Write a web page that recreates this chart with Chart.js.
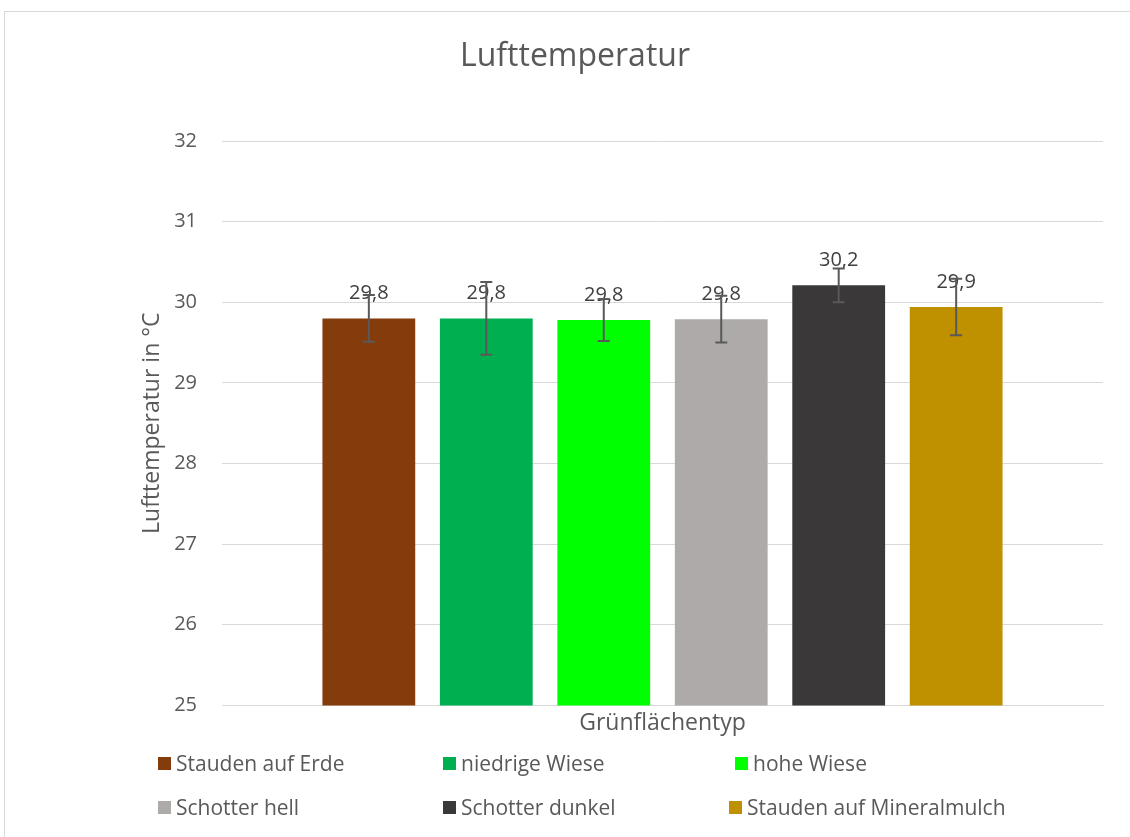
<!DOCTYPE html>
<html>
<head>
<meta charset="utf-8">
<script src="https://cdn.jsdelivr.net/npm/chart.js@4.4.0/dist/chart.umd.min.js"></script>
<style>
  body { margin: 0; background: #fff; font-family: 'Open Sans', sans-serif; }
  #wrap { position: relative; width: 1130px; height: 837px; overflow: hidden; }
  #frame { position: absolute; left: 4px; top: 11px; width: 1200px; height: 900px; border: 1px solid #d9d9d9; }
  canvas { position: absolute; left: 0; top: 0; }
  #title { position: absolute; left: 0; top: 35px; width: 1150px; text-align: center; font-size: 32px; line-height: 38px; color: #595959; }
  .legend-item { position: absolute; display: flex; align-items: center; font-size: 21px; line-height: 28px; color: #595959; white-space: nowrap; }
  .legend-item span.box { display: inline-block; width: 13px; height: 13px; margin-right: 5px; }
</style>
</head>
<body>
<div id="wrap">
  <div id="frame"></div>
  <canvas id="chart" width="1130" height="837"></canvas>
  <div id="title">Lufttemperatur</div>
  <div id="legend"></div>
</div>
<script>
// Lufttemperatur je Grünflächentyp
const seriesNames = ['Stauden auf Erde', 'niedrige Wiese', 'hohe Wiese', 'Schotter hell', 'Schotter dunkel', 'Stauden auf Mineralmulch'];
const meanValues = [29.80, 29.80, 29.78, 29.79, 30.21, 29.94];
const errorValues = [0.29, 0.45, 0.26, 0.29, 0.21, 0.35];
const barColors = ['#843C0C', '#00B050', '#00FF00', '#AEAAAA', '#3A3838', '#BF9000'];
const yTicks = [25, 26, 27, 28, 29, 30, 31, 32];

// legend positions (3 columns, 2 rows)
const legendPos = [
  [158, 749], [443, 749], [735, 749],
  [158, 793], [443, 793], [729, 793]
];

const textColor = '#595959';

// data labels + error bars
const barExtras = {
  id: 'barExtras',
  afterDatasetsDraw(chart) {
    const ctx = chart.ctx;
    const yScale = chart.scales.y;
    ctx.save();
    ctx.font = '20px "Open Sans"';
    ctx.fillStyle = '#404040';
    ctx.textAlign = 'center';
    ctx.textBaseline = 'middle';
    chart.data.datasets.forEach((ds, i) => {
      const bar = chart.getDatasetMeta(i).data[0];
      ctx.fillText(meanValues[i].toFixed(1).replace('.', ','), bar.x, bar.y - 25);
    });
    ctx.strokeStyle = '#595959';
    ctx.lineWidth = 2;
    chart.data.datasets.forEach((ds, i) => {
      const bar = chart.getDatasetMeta(i).data[0];
      const top = yScale.getPixelForValue(meanValues[i] + errorValues[i]);
      const bottom = yScale.getPixelForValue(meanValues[i] - errorValues[i]);
      ctx.beginPath();
      ctx.moveTo(bar.x, top); ctx.lineTo(bar.x, bottom);
      ctx.moveTo(bar.x - 6, top); ctx.lineTo(bar.x + 6, top);
      ctx.moveTo(bar.x - 6, bottom); ctx.lineTo(bar.x + 6, bottom);
      ctx.stroke();
    });
    ctx.restore();
  }
};

const datasets = seriesNames.map((name, i) => ({
  label: name,
  data: [meanValues[i]],
  backgroundColor: barColors[i],
  borderWidth: 0,
  barPercentage: 0.79,
  categoryPercentage: 0.8
}));

new Chart(document.getElementById('chart'), {
  type: 'bar',
  data: { labels: [''], datasets },
  options: {
    responsive: false,
    animation: false,
    devicePixelRatio: 1,
    layout: { padding: { left: 135, right: 27, top: 141, bottom: 100 } },
    plugins: {
      legend: { display: false },
      tooltip: { enabled: false },
      title: { display: false }
    },
    scales: {
      x: {
        grid: { display: false, drawTicks: false },
        border: { display: true, color: '#d9d9d9' },
        ticks: { display: false },
        title: {
          display: true,
          text: 'Grünflächentyp',
          color: textColor,
          font: { family: 'Open Sans', size: 23 },
          padding: { top: 4, bottom: 0 }
        }
      },
      y: {
        min: 25,
        max: 32,
        afterBuildTicks(scale) { scale.ticks = yTicks.map(v => ({ value: v })); },
        afterFit(scale) { scale.width = 87; },
        grid: { color: '#d9d9d9', drawTicks: false },
        border: { display: false },
        ticks: {
          color: textColor,
          padding: 25,
          font: { family: 'Open Sans', size: 20 }
        },
        title: {
          display: true,
          text: 'Lufttemperatur in °C',
          color: textColor,
          font: { family: 'Open Sans', size: 23 },
          padding: { top: 4, bottom: 4 }
        }
      }
    }
  },
  plugins: [barExtras]
});

// HTML legend
const legend = document.getElementById('legend');
seriesNames.forEach((name, i) => {
  const item = document.createElement('div');
  item.className = 'legend-item';
  item.style.left = legendPos[i][0] + 'px';
  item.style.top = legendPos[i][1] + 'px';
  item.innerHTML = `<span class="box" style="background:${barColors[i]}"></span>${name}`;
  legend.appendChild(item);
});
</script>
</body>
</html>
